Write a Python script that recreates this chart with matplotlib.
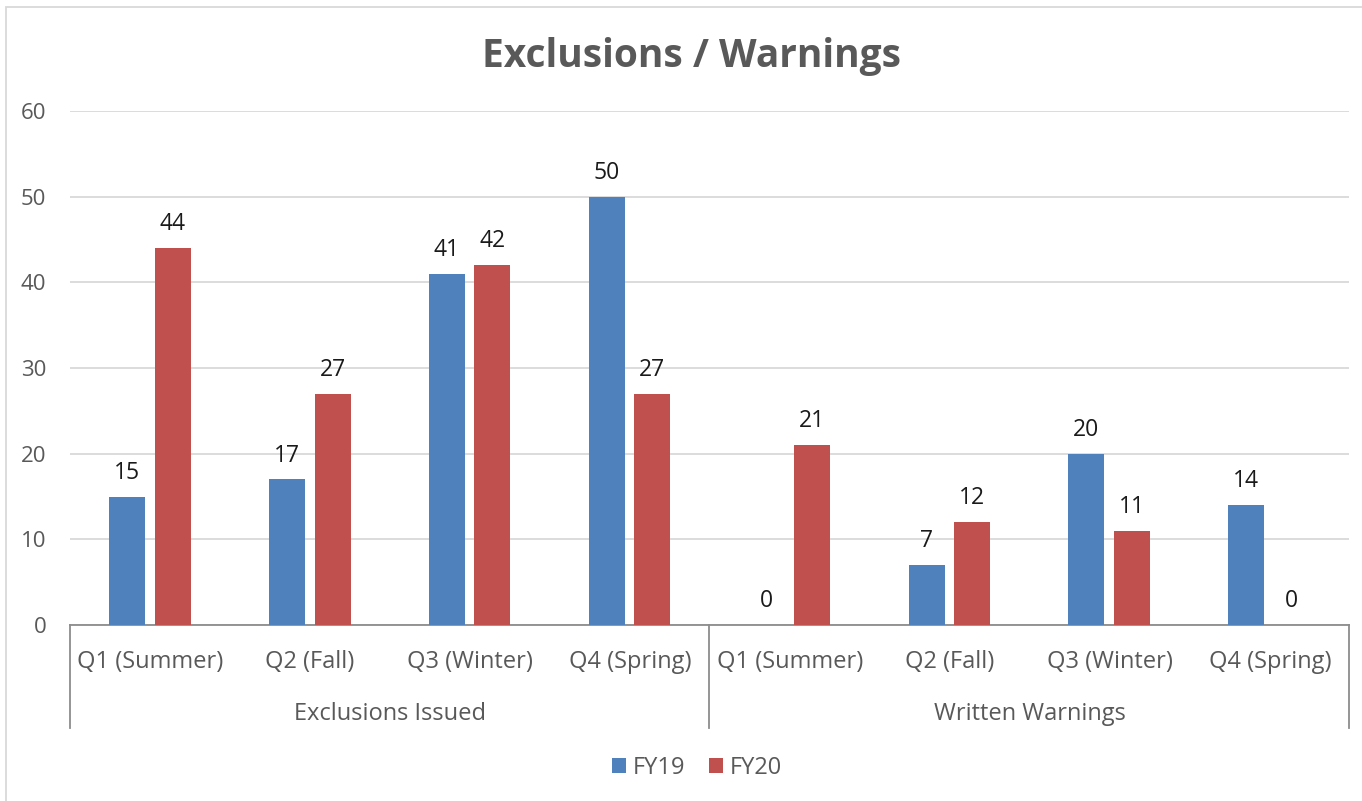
import numpy as np
import matplotlib.pyplot as plt
from matplotlib.patches import Rectangle
from matplotlib.lines import Line2D

plt.rcParams['font.family'] = ['Open Sans', 'DejaVu Sans']

# data
quarters = ['Q1 (Summer)', 'Q2 (Fall)', 'Q3 (Winter)', 'Q4 (Spring)']
groups = ['Exclusions Issued', 'Written Warnings']
fy19 = [15, 17, 41, 50, 0, 7, 20, 14]
fy20 = [44, 27, 42, 27, 21, 12, 11, 0]
series = ['FY19', 'FY20']
colors = ['#4F81BD', '#C0504D']

W, H = 1362, 801
fig = plt.figure(figsize=(W / 100, H / 100), dpi=100)
ax = fig.add_axes([70 / W, 1 - 625 / H, (1349 - 70) / W, (625 - 111) / H])

# borda do gráfico
fig.patches.append(Rectangle((6 / W, -0.05), 1.1, 1 - 7 / H + 0.05, transform=fig.transFigure,
                             fill=False, edgecolor='#d9d9d9', linewidth=1.3))

n = len(fy19)
x = np.arange(n)
bw = 0.225
off = 0.142
b1 = ax.bar(x - off, fy19, bw, color=colors[0], label=series[0], zorder=3)
b2 = ax.bar(x + off, fy20, bw, color=colors[1], label=series[1], zorder=3)

for bars, vals in [(b1, fy19), (b2, fy20)]:
    for b, v in zip(bars, vals):
        ax.annotate(str(v), (b.get_x() + b.get_width() / 2, v), xytext=(0, 8.5),
                    textcoords='offset points', ha='center', va='bottom',
                    fontsize=16.5, color='#1a1a1a')

ax.set_xlim(-0.5, n - 0.5)
ax.set_ylim(0, 60)
ax.set_yticks(range(0, 61, 10))
ax.tick_params(axis='y', length=0, labelsize=16, labelcolor='#595959', pad=17)
ax.tick_params(axis='x', length=0, labelbottom=False)
ax.grid(axis='y', color='#d9d9d9', linewidth=1.3, zorder=0)
for s in ['top', 'right', 'left']:
    ax.spines[s].set_visible(False)
ax.spines['bottom'].set_color('#8c8c8c')
ax.spines['bottom'].set_linewidth(1.3)

# rótulos de categorias em dois níveis
labels = quarters * len(groups)
for i, lab in enumerate(labels):
    fig.text((70 + 160 * i + 80) / W, 1 - 662 / H, lab, ha='center', va='center',
             fontsize=17, color='#595959')
for j, g in enumerate(groups):
    fig.text((70 + 640 * j + 320) / W, 1 - 714 / H, g, ha='center', va='center',
             fontsize=17, color='#595959')
for xp in [70, 709, 1349]:
    fig.lines.append(Line2D([xp / W, xp / W], [1 - 625 / H, 1 - 728 / H],
                            transform=fig.transFigure, color='#8c8c8c', linewidth=1.3))

fig.text(692 / W, 1 - 56 / H, 'Exclusions / Warnings', ha='center', va='center',
         fontsize=28, fontweight='bold', color='#595959')

fig.legend(loc='center', bbox_to_anchor=(697 / W, 1 - 768 / H), ncol=2, frameon=False,
           fontsize=17, labelcolor='#595959', handlelength=0.6, handleheight=0.6,
           handletextpad=0.3, columnspacing=1.0)

fig.savefig('out.png', dpi=100)
